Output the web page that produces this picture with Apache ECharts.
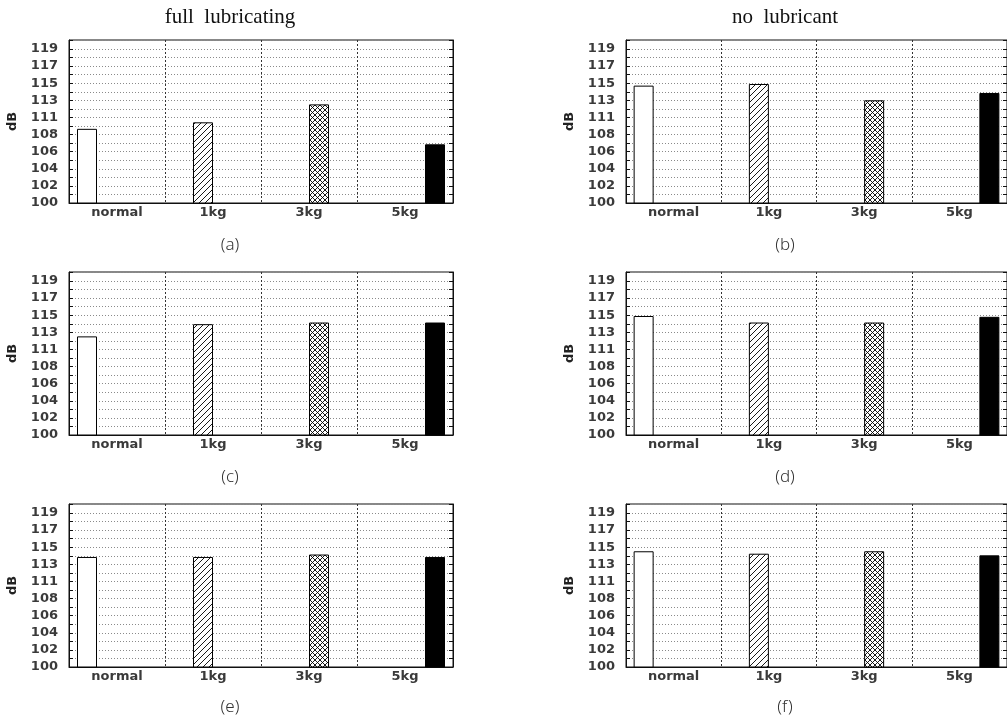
<!DOCTYPE html>
<html><head><meta charset="utf-8">
<script src="https://cdn.jsdelivr.net/npm/echarts@6/dist/echarts.min.js"></script>
<style>html,body{margin:0;padding:0;background:#fff}#c{width:1007px;height:716px}</style>
</head><body><div id="c"></div>
<script>
// ---- data ----
const categories = ['normal', '1kg', '3kg', '5kg'];
const yTickLabels = ['100', '102', '104', '106', '108', '111', '113', '115', '117', '119'];
const yMin = 100;
const yMax = 120;
const tickStep = 2.1;
const panelA = [109.1, 109.9, 112.1, 107.2];
const panelB = [114.4, 114.6, 112.6, 113.5];
const panelC = [112.1, 113.6, 113.8, 113.8];
const panelD = [114.6, 113.8, 113.8, 114.5];
const panelE = [113.5, 113.5, 113.8, 113.5];
const panelF = [114.2, 113.9, 114.2, 113.7];
const columnTitles = ['full  lubricating', 'no  lubricant'];
const panelCaptions = ['(a)', '(b)', '(c)', '(d)', '(e)', '(f)'];
const yName = 'dB';

// ---- styles ----
function makePattern(kind, s) {
  const c = document.createElement('canvas');
  c.width = s; c.height = s;
  const g = c.getContext('2d');
  g.fillStyle = '#fff'; g.fillRect(0, 0, s, s);
  g.strokeStyle = '#000'; g.lineWidth = 0.9;
  g.beginPath();
  g.moveTo(0, s); g.lineTo(s, 0);
  g.moveTo(-1, 1); g.lineTo(1, -1);
  g.moveTo(s - 1, s + 1); g.lineTo(s + 1, s - 1);
  if (kind === 'cross') {
    g.moveTo(0, 0); g.lineTo(s, s);
    g.moveTo(-1, s - 1); g.lineTo(1, s + 1);
    g.moveTo(s - 1, -1); g.lineTo(s + 1, 1);
  }
  g.stroke();
  return c;
}
const fills = [
  '#ffffff',
  { image: makePattern('hatch', 6), repeat: 'repeat' },
  { image: makePattern('cross', 5), repeat: 'repeat' },
  '#000000'
];

const panels = [panelA, panelB, panelC, panelD, panelE, panelF];
const colLeft = [69, 626];
const rowTop = [40, 272, 504];
const plotW = 384, plotH = 163;
const labelFont = 'DejaVu Sans';

const grids = [], xAxes = [], yAxes = [], series = [];
panels.forEach((vals, p) => {
  const col = p % 2, row = Math.floor(p / 2);
  grids.push({ left: colLeft[col], top: rowTop[row], width: plotW, height: plotH,
    show: true, borderColor: '#111', borderWidth: 1, backgroundColor: '#fff' });
  xAxes.push({
    gridIndex: p, type: 'category', data: categories,
    axisTick: { show: false },
    axisLine: { lineStyle: { color: '#111', width: 1 } },
    axisLabel: { fontFamily: labelFont, fontSize: 13, fontWeight: 'bold', color: '#3a3a3a', margin: 3 },
    splitLine: { show: true, lineStyle: { type: [2, 2], color: '#333', width: 1 } }
  });
  // data axis (real values)
  yAxes.push({
    gridIndex: p, type: 'value', min: yMin, max: yMax, position: 'left',
    axisLabel: { show: false }, axisTick: { show: false }, axisLine: { show: false },
    splitLine: { show: false },
    name: yName, nameLocation: 'middle', nameGap: 50, nameRotate: 90,
    nameTextStyle: { fontFamily: labelFont, fontSize: 13, fontWeight: 'bold', color: '#222' }
  });
  // label axis
  yAxes.push({
    gridIndex: p, type: 'value', min: 0, max: yMax - yMin, interval: tickStep, position: 'left',
    axisLine: { show: true, lineStyle: { color: '#111' } },
    axisTick: { show: true, inside: true, length: 4, lineStyle: { color: '#111' } },
    minorTick: { show: true, splitNumber: 2, length: 4, lineStyle: { color: '#111' } },
    axisLabel: { fontFamily: labelFont, fontSize: 13, fontWeight: 'bold', color: '#3a3a3a', margin: 11,
      formatter: v => yTickLabels[Math.round(v / tickStep)] || '' },
    splitLine: { show: true, lineStyle: { type: [1, 2], color: '#8a8a8a', width: 1 } },
    minorSplitLine: { show: true, lineStyle: { type: [1, 2], color: '#8a8a8a', width: 1 } }
  });
  // right tick axis
  yAxes.push({
    gridIndex: p, type: 'value', min: 0, max: yMax - yMin, interval: tickStep, position: 'right',
    axisLine: { show: true, lineStyle: { color: '#111' } },
    axisTick: { show: true, inside: true, length: 4, lineStyle: { color: '#111' } },
    minorTick: { show: true, splitNumber: 2, length: 4, lineStyle: { color: '#111' } },
    axisLabel: { show: false }, splitLine: { show: false }
  });
  categories.forEach((c, i) => {
    series.push({
      type: 'bar', xAxisIndex: p, yAxisIndex: p * 3, barWidth: 20, barGap: '0%',
      data: categories.map((_, j) => (j === i ? vals[i] : '-')),
      itemStyle: { color: fills[i], borderColor: '#000', borderWidth: 1 },
      silent: true
    });
  });
});

const textStyleTitle = { fontFamily: 'Liberation Serif', fontSize: 21, fill: '#111' };
const textStyleCap = { fontFamily: 'Noto Sans', fontSize: 17, fontWeight: 300, fill: '#333' };
const graphics = [];
const titleX = [230, 785];
columnTitles.forEach((t, i) => graphics.push({ type: 'text', x: titleX[i], y: 17,
  style: Object.assign({ text: t, align: 'center', verticalAlign: 'middle' }, textStyleTitle) }));
const capY = [245, 477, 707];
panelCaptions.forEach((t, p) => graphics.push({ type: 'text', x: titleX[p % 2], y: capY[Math.floor(p / 2)],
  style: Object.assign({ text: t, align: 'center', verticalAlign: 'middle' }, textStyleCap) }));

const chart = echarts.init(document.getElementById('c'), null, { renderer: 'canvas' });
chart.setOption({
  animation: false,
  backgroundColor: '#fff',
  grid: grids, xAxis: xAxes, yAxis: yAxes, series: series,
  graphic: graphics
});
</script></body></html>
